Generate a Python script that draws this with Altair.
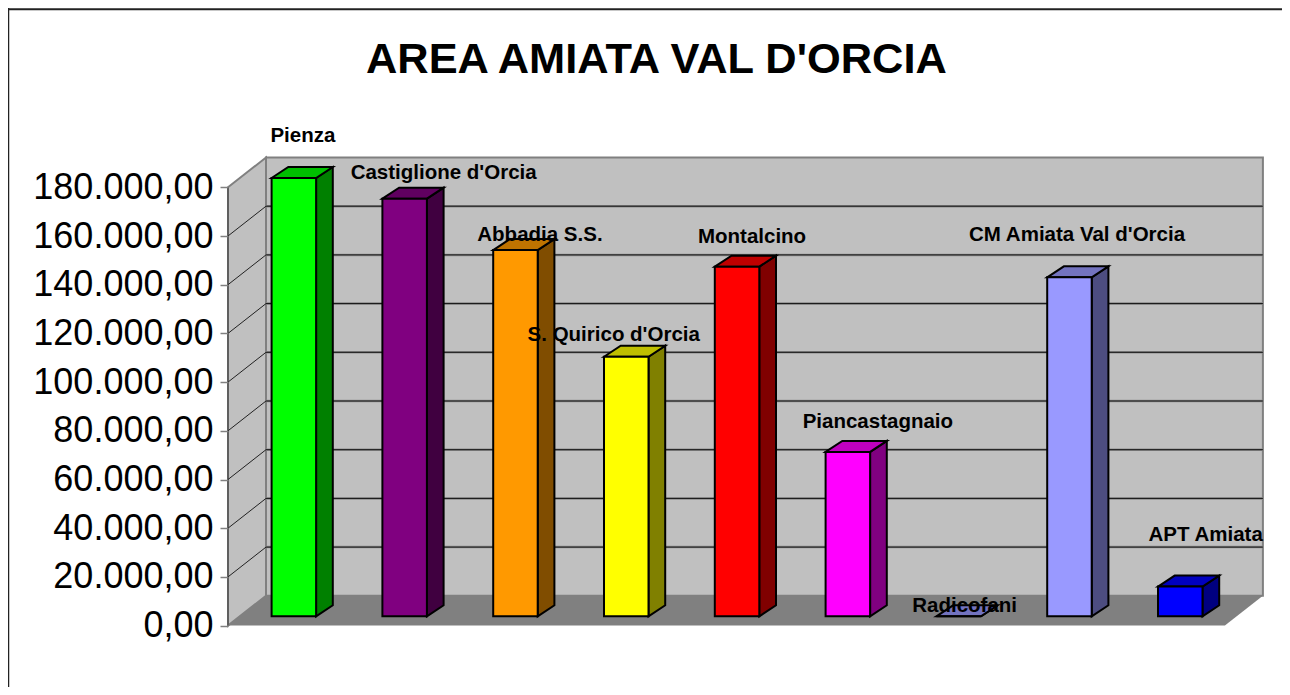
import altair as alt
import pandas as pd

# ---- data ----
categories = ["Pienza", "Castiglione d'Orcia", "Abbadia S.S.", "S. Quirico d'Orcia", "Montalcino",
              "Piancastagnaio", "Radicofani", "CM Amiata Val d'Orcia", "APT Amiata"]
values = [180000, 171500, 150400, 106600, 143600, 67500, 0, 139200, 12200]
front_colors = ["#00FF00", "#800080", "#FF9900", "#FFFF00", "#FF0000", "#FF00FF", "#9999FF", "#9999FF", "#0000FF"]
top_colors = ["#00BF00", "#600060", "#BF7300", "#BFBF00", "#BF0000", "#BF00BF", "#7373BF", "#7373BF", "#0000BF"]
side_colors = ["#008000", "#400040", "#804D00", "#808000", "#800000", "#800080", "#4D4D80", "#4D4D80", "#000080"]
tick_values = [0, 20000, 40000, 60000, 80000, 100000, 120000, 140000, 160000, 180000]

# label nudges (the original labels were moved by hand), pixels from the top of each bar
label_dx = [9, 39, 24.5, -12.5, 15, 30, 6, 7.6, 25.4]
label_dy = [-42, -26, -15, -21.7, -29.7, -30, -10, -42.5, -51.7]

# ---- scene geometry ----
W, H = 1274, 679
PX_PER_SLOT = 110.8
PX_PER_VALUE = 438.3 / 180000
X_ZERO_PX = 263.6      # left edge of first bar
Y_ZERO_PX = 617.6      # value 0 on the front plane


def ux(px):
    return px / PX_PER_SLOT


def uy(px):
    return px / PX_PER_VALUE


x_scale = alt.Scale(domain=[-ux(X_ZERO_PX), ux(W - X_ZERO_PX)], range=[0, W], nice=False, zero=False)
y_scale = alt.Scale(domain=[-uy(H - Y_ZERO_PX), uy(Y_ZERO_PX)], range=[H, 0], nice=False, zero=False)

BAR_W = ux(44.5)
BAR_DX = ux(16.7)
BAR_DY = uy(11)
BAR_BASE = uy(9.3)
WALL_X = -ux(43.6)
WALL_R = ux(1216.9 - 263.6)
DEPTH_X = ux(38)
DEPTH_Y = uy(29.8)
TOP_V = 180000

label_expr = "replace(format(datum.value, ',.0f'), regexp(',', 'g'), '.') + ',00'"
y_axis = alt.Axis(values=tick_values, labelExpr=label_expr, title=None, grid=False, domain=False,
                  labelFont="Liberation Sans", labelFontSize=36, labelColor="#000000", labelPadding=7,
                  labelLimit=400, tickSize=8, tickColor="#808080", tickWidth=1.5,
                  labelOverlap=False, labelBaseline="middle", offset=-220, zindex=1)

X = lambda f="x": alt.X(f"{f}:Q", scale=x_scale, axis=None)
Y = lambda f="y": alt.Y(f"{f}:Q", scale=y_scale, axis=y_axis)

# walls and floor
left_wall = pd.DataFrame({
    "x": [WALL_X, WALL_X + DEPTH_X],
    "y": [TOP_V, TOP_V + DEPTH_Y],
    "y2": [0, DEPTH_Y],
})
back_wall = pd.DataFrame({
    "x": [WALL_X + DEPTH_X], "x2": [WALL_R + DEPTH_X], "y": [TOP_V + DEPTH_Y], "y2": [DEPTH_Y],
})
floor = pd.DataFrame({
    "x": [WALL_X, WALL_X + DEPTH_X, WALL_R, WALL_R + DEPTH_X],
    "y": [0, DEPTH_Y, DEPTH_Y, DEPTH_Y],
    "y2": [0, 0, 0, DEPTH_Y],
})
wall_edge = pd.DataFrame({"x": [WALL_X], "y": [TOP_V], "y2": [0]})
grid_vals = tick_values[1:-1]
grid_back = pd.DataFrame({
    "x": [WALL_X + DEPTH_X] * len(grid_vals),
    "x2": [WALL_R + DEPTH_X] * len(grid_vals),
    "y": [v + DEPTH_Y for v in grid_vals],
})
grid_side = pd.DataFrame({
    "x": [WALL_X] * len(grid_vals),
    "x2": [WALL_X + DEPTH_X] * len(grid_vals),
    "y": grid_vals,
    "y2": [v + DEPTH_Y for v in grid_vals],
})

layers = [
    alt.Chart(left_wall).mark_area(fill="#C0C0C0", stroke="#808080", strokeWidth=2).encode(
        x=X(), y=Y(), y2="y2:Q"),
    alt.Chart(back_wall).mark_rect(fill="#C0C0C0", stroke="#808080", strokeWidth=2).encode(
        x=X(), x2="x2:Q", y=Y(), y2="y2:Q"),
    alt.Chart(floor).mark_area(fill="#808080").encode(x=X(), y=Y(), y2="y2:Q"),
    alt.Chart(wall_edge).mark_rule(color="#555555", strokeWidth=1.5).encode(x=X(), y=Y(), y2="y2:Q"),
    alt.Chart(grid_back).mark_rule(color="#8a8a8a", strokeWidth=2.5).encode(x=X(), x2="x2:Q", y=Y()),
    alt.Chart(grid_back).mark_rule(color="#111111", strokeWidth=1).encode(x=X(), x2="x2:Q", y=Y()),
    alt.Chart(grid_side).mark_rule(color="#222222", strokeWidth=1).encode(x=X(), x2="x2:Q", y=Y(), y2="y2:Q"),
]

# bars: one front, one side and one top face per value
fronts, sides, tops = [], [], []
for i, (v, fc, tc, sc) in enumerate(zip(values, front_colors, top_colors, side_colors)):
    xl, xr = i, i + BAR_W
    top, base = v + BAR_BASE, BAR_BASE
    fronts.append({"id": i, "x": xl, "x2": xr, "y": top, "y2": base, "fill": fc})
    sides += [{"id": i, "x": xr, "y": top, "y2": base, "fill": sc},
              {"id": i, "x": xr + BAR_DX, "y": top + BAR_DY, "y2": base + BAR_DY, "fill": sc}]
    tops += [{"id": i, "x": xl, "y": top, "y2": top, "fill": tc},
             {"id": i, "x": xl + BAR_DX, "y": top + BAR_DY, "y2": top, "fill": tc},
             {"id": i, "x": xr, "y": top + BAR_DY, "y2": top, "fill": tc},
             {"id": i, "x": xr + BAR_DX, "y": top + BAR_DY, "y2": top + BAR_DY, "fill": tc}]

face_fill = alt.Fill("fill:N", scale=None, legend=None)
layers += [
    alt.Chart(pd.DataFrame(sides)).mark_area(stroke="#000000", strokeWidth=2).encode(
        x=X(), y=Y(), y2="y2:Q", fill=face_fill, detail="id:N"),
    alt.Chart(pd.DataFrame(tops)).mark_area(stroke="#000000", strokeWidth=2).encode(
        x=X(), y=Y(), y2="y2:Q", fill=face_fill, detail="id:N"),
    alt.Chart(pd.DataFrame(fronts)).mark_rect(stroke="#000000", strokeWidth=2).encode(
        x=X(), x2="x2:Q", y=Y(), y2="y2:Q", fill=face_fill),
]

# data labels
for i, name in enumerate(categories):
    row = pd.DataFrame({"x": [i + BAR_W / 2], "y": [values[i] + BAR_BASE], "name": [name]})
    layers.append(
        alt.Chart(row).mark_text(font="Liberation Sans", fontWeight="bold", fontSize=20.5, color="#000000",
                                 dx=label_dx[i], dy=label_dy[i], baseline="middle", align="center").encode(
            x=X(), y=Y(), text="name:N"))

# chart title, placed inside the frame as in the original
edge = pd.DataFrame({"title": ["AREA AMIATA VAL D'ORCIA"]})
layers.append(
    alt.Chart(edge).mark_text(font="Liberation Sans", fontWeight="bold", fontSize=43.4, color="#000000",
                              align="left", baseline="alphabetic").encode(
        x=alt.value(358), y=alt.value(65), text="title:N"))

# chart frame: only its top and left edges fall inside the picture
layers += [
    alt.Chart(edge).mark_rule(color="#222222", strokeWidth=1.5).encode(
        x=alt.value(0.5), y=alt.value(0), y2=alt.value(H)),
    alt.Chart(edge).mark_rule(color="#222222", strokeWidth=2).encode(
        x=alt.value(0), x2=alt.value(W), y=alt.value(1.2)),
]

chart = alt.layer(*layers).properties(
    width=W, height=H, padding=0, background="#FFFFFF",
    autosize=alt.AutoSizeParams(type="none"),
).configure_view(strokeWidth=0)

chart.save("out.html", embed_options={"renderer": "svg", "actions": False})
